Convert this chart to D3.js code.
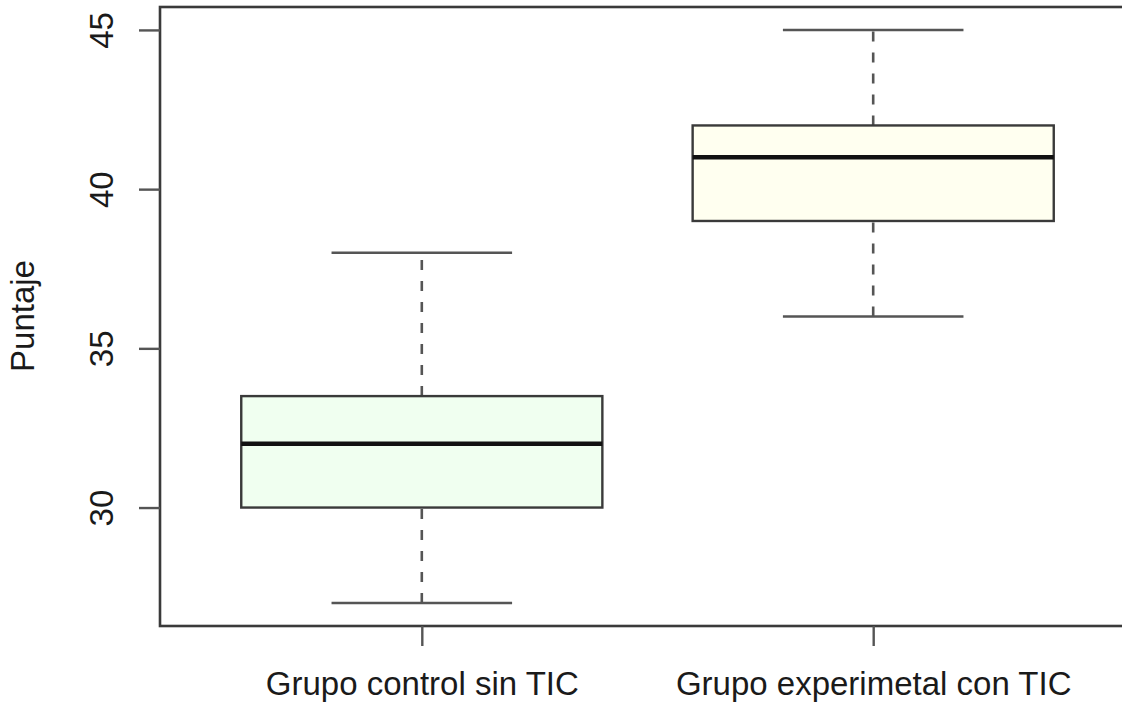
<!DOCTYPE html>
<html>
<head>
<meta charset="utf-8">
<script src="https://cdn.jsdelivr.net/npm/d3@7"></script>
<style>
  body { margin: 0; background: #fff; }
  svg { display: block; font-family: "Liberation Sans", Arial, sans-serif; }
</style>
</head>
<body>
<svg id="chart" width="1122" height="707"></svg>
<script>
const groups = ["Grupo control sin TIC", "Grupo experimetal con TIC"];
const lowWhisker = [27, 36];
const q1 = [30, 39];
const median = [32, 41];
const q3 = [33.5, 42];
const highWhisker = [38, 45];
const fills = ["#f0fff0", "#fffff0"];
const yTicks = [30, 35, 40, 45];

const boxes = groups.map((g, i) => ({
  name: g,
  pos: i + 1,
  lo: lowWhisker[i],
  q1: q1[i],
  med: median[i],
  q3: q3[i],
  hi: highWhisker[i],
  fill: fills[i]
}));

const svg = d3.select("#chart");

// plot region (R style, 4% padding on both axes)
const plotLeft = 160, plotTop = 7, plotBottom = 626;
const plotRight = 1135; // runs past the window edge, like the original

const x = d3.scaleLinear().domain([0.42, 2.58]).range([plotLeft, plotRight]);
const y = d3.scaleLinear().domain([26.28, 45.72]).range([plotBottom, plotTop]);

const plot = svg.append("g");

// whiskers (dashed)
plot.selectAll("line.whisker")
  .data(boxes.flatMap((d) => [[d, d.lo, d.q1], [d, d.q3, d.hi]]))
  .enter()
  .append("line")
  .attr("x1", (d) => x(d[0].pos))
  .attr("x2", (d) => x(d[0].pos))
  .attr("y1", (d) => y(d[1]))
  .attr("y2", (d) => y(d[2]))
  .attr("stroke", "#555")
  .attr("stroke-width", 2.6)
  .attr("stroke-dasharray", "10,11");

// whisker caps
plot.selectAll("line.cap")
  .data(boxes.flatMap((d) => [[d, d.lo], [d, d.hi]]))
  .enter()
  .append("line")
  .attr("x1", (d) => x(d[0].pos - 0.2))
  .attr("x2", (d) => x(d[0].pos + 0.2))
  .attr("y1", (d) => y(d[1]))
  .attr("y2", (d) => y(d[1]))
  .attr("stroke", "#555")
  .attr("stroke-width", 2.4);

// boxes
plot.selectAll("rect.box")
  .data(boxes)
  .enter()
  .append("rect")
  .attr("x", (d) => x(d.pos - 0.4))
  .attr("width", (d) => x(d.pos + 0.4) - x(d.pos - 0.4))
  .attr("y", (d) => y(d.q3))
  .attr("height", (d) => y(d.q1) - y(d.q3))
  .attr("fill", (d) => d.fill)
  .attr("stroke", "#3a3a3a")
  .attr("stroke-width", 2.4);

// medians
plot.selectAll("line.med")
  .data(boxes)
  .enter()
  .append("line")
  .attr("x1", (d) => x(d.pos - 0.4))
  .attr("x2", (d) => x(d.pos + 0.4))
  .attr("y1", (d) => y(d.med))
  .attr("y2", (d) => y(d.med))
  .attr("stroke", "#111")
  .attr("stroke-width", 4.5);

// frame
svg.append("rect")
  .attr("x", plotLeft)
  .attr("y", plotTop)
  .attr("width", plotRight - plotLeft)
  .attr("height", plotBottom - plotTop)
  .attr("fill", "none")
  .attr("stroke", "#3a3a3a")
  .attr("stroke-width", 2.6);

// y axis
const yAxis = svg.append("g")
  .attr("transform", `translate(${plotLeft},0)`)
  .call(d3.axisLeft(y).tickValues(yTicks).tickSize(21).tickFormat(d3.format("d")));
yAxis.select(".domain").remove();
yAxis.selectAll(".tick line").attr("stroke", "#555").attr("stroke-width", 2.4);
yAxis.selectAll(".tick text")
  .attr("x", null).attr("dy", null)
  .attr("transform", "translate(-47,0) rotate(-90)")
  .attr("text-anchor", "middle")
  .attr("fill", "#1a1a1a")
  .style("font-size", "33px");

// x axis
const xAxis = svg.append("g")
  .attr("transform", `translate(0,${plotBottom})`)
  .call(d3.axisBottom(x).tickValues(boxes.map((d) => d.pos)).tickSize(20)
    .tickFormat((d) => groups[d - 1]));
xAxis.select(".domain").remove();
xAxis.selectAll(".tick line").attr("stroke", "#555").attr("stroke-width", 2.4);
xAxis.selectAll(".tick text")
  .attr("y", 69).attr("dy", null)
  .attr("fill", "#1a1a1a")
  .style("font-size", "33px");

// y label
svg.append("text")
  .attr("transform", "translate(34,316) rotate(-90)")
  .attr("text-anchor", "middle")
  .attr("fill", "#1a1a1a")
  .style("font-size", "33px")
  .text("Puntaje");
</script>
</body>
</html>
